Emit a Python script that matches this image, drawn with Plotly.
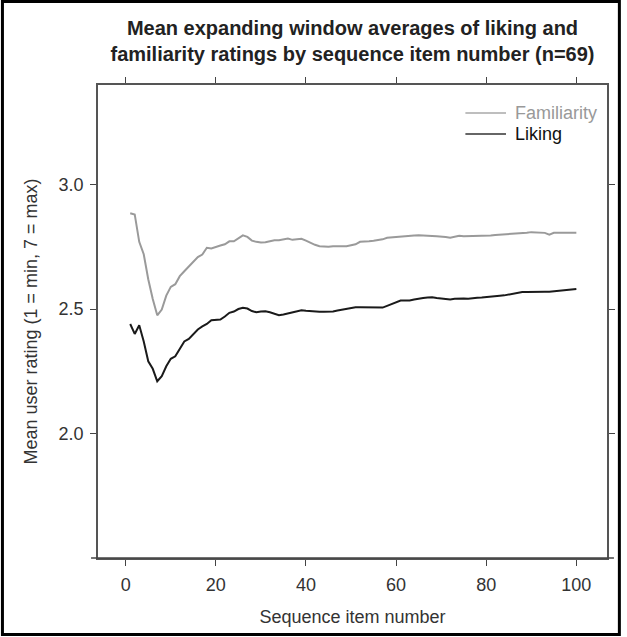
import plotly.graph_objects as go

item_number = list(range(1, 101))

familiarity = [
    2.885, 2.880, 2.770, 2.720, 2.620, 2.540, 2.475, 2.498, 2.554, 2.589,
    2.600, 2.632, 2.652, 2.672, 2.692, 2.709, 2.719, 2.746, 2.743, 2.750,
    2.755, 2.760, 2.772, 2.772, 2.783, 2.796, 2.790, 2.775, 2.770, 2.767,
    2.768, 2.772, 2.776, 2.776, 2.780, 2.783, 2.778, 2.780, 2.782, 2.775,
    2.765, 2.758, 2.752, 2.750, 2.750, 2.752, 2.752, 2.752, 2.752, 2.756,
    2.760, 2.770, 2.770, 2.772, 2.774, 2.776, 2.780, 2.786, 2.788, 2.790,
    2.792, 2.792, 2.794, 2.795, 2.796, 2.794, 2.792, 2.793, 2.792, 2.792,
    2.789, 2.786, 2.790, 2.794, 2.792, 2.792, 2.792, 2.792, 2.793, 2.794,
    2.795, 2.797, 2.798, 2.799, 2.801, 2.802, 2.803, 2.805, 2.807, 2.809,
    2.808, 2.807, 2.806, 2.799, 2.806, 2.806, 2.806, 2.806, 2.807, 2.807,
]

liking = [
    2.440, 2.400, 2.435, 2.370, 2.290, 2.260, 2.210, 2.230, 2.270, 2.300,
    2.310, 2.340, 2.370, 2.380, 2.400, 2.418, 2.430, 2.440, 2.455, 2.458,
    2.458, 2.470, 2.485, 2.490, 2.500, 2.505, 2.502, 2.492, 2.487, 2.490,
    2.491, 2.487, 2.480, 2.475, 2.478, 2.482, 2.485, 2.490, 2.495, 2.493,
    2.491, 2.490, 2.489, 2.489, 2.489, 2.490, 2.494, 2.498, 2.500, 2.503,
    2.507, 2.507, 2.507, 2.507, 2.507, 2.505, 2.506, 2.513, 2.521, 2.528,
    2.534, 2.534, 2.534, 2.538, 2.542, 2.544, 2.546, 2.547, 2.544, 2.542,
    2.540, 2.538, 2.541, 2.543, 2.542, 2.541, 2.544, 2.545, 2.546, 2.547,
    2.549, 2.551, 2.553, 2.555, 2.558, 2.563, 2.567, 2.568, 2.569, 2.570,
    2.570, 2.570, 2.570, 2.570, 2.572, 2.574, 2.576, 2.578, 2.580, 2.581,
]

x_ticks = [0, 20, 40, 60, 80, 100]
y_ticks = [2.0, 2.5, 3.0]
y_tick_labels = ["2.0", "2.5", "3.0"]

FAM_COLOR = "#9a9a9a"
LIK_COLOR = "#1a1a1a"
FONT = "Liberation Sans, Arial, sans-serif"

fig = go.Figure()
fig.add_trace(go.Scatter(x=item_number, y=familiarity, mode="lines",
                         name="Familiarity", line=dict(color=FAM_COLOR, width=2)))
fig.add_trace(go.Scatter(x=item_number, y=liking, mode="lines",
                         name="Liking", line=dict(color=LIK_COLOR, width=2)))

W, H = 627, 637
L, R, T, B = 98, 15, 85, 79
pw, ph = W - L - R, H - T - B

def px(xp):
    return (xp - L) / pw

def py(yp):
    return (H - B - yp) / ph

fig.update_layout(
    width=W, height=H,
    margin=dict(l=L, r=R, t=T, b=B),
    paper_bgcolor="white", plot_bgcolor="white",
    showlegend=False,
    font=dict(family=FONT, size=18, color="#333333"),
    title=dict(
        text="<b>Mean expanding window averages of liking and<br>familiarity ratings by sequence item number (n=69)</b>",
        xref="paper", x=0.5, xanchor="center",
        yref="container", y=1 - 35 / H, yanchor="middle",
        font=dict(family=FONT, size=20, color="#222222"),
    ),
    xaxis=dict(
        range=[-6.15, 106.8], tickvals=x_ticks, ticktext=[str(v) for v in x_ticks],
        showgrid=False, zeroline=False, showline=True, linecolor="#555555", linewidth=1.5,
        mirror="ticks", ticks="outside", ticklen=6, tickcolor="#444444", tickwidth=1,
        ticklabelstandoff=4,
        title=dict(text="Sequence item number", standoff=16, font=dict(size=18, color="#333333")),
    ),
    yaxis=dict(
        range=[1.5, 3.4], tickvals=y_ticks, ticktext=y_tick_labels,
        showgrid=False, zeroline=False, showline=True, linecolor="#555555", linewidth=1.5,
        mirror="ticks", ticks="outside", ticklen=6, tickcolor="#444444", tickwidth=1,
        ticklabelstandoff=3,
        title=dict(text="Mean user rating (1 = min, 7 = max)", standoff=16, font=dict(size=18, color="#333333")),
    ),
)

# bottom axis line extends slightly beyond the plot box
fig.add_shape(type="line", xref="paper", yref="paper",
              x0=px(91), x1=px(619), y0=0, y1=0,
              line=dict(color="#444444", width=1.5), layer="above")

# outer frame around the whole figure
fig.add_shape(type="rect", xref="paper", yref="paper",
              x0=px(1.5), x1=px(W - 2.5), y0=py(H - 2.5), y1=py(1.5),
              line=dict(color="black", width=3), fillcolor="rgba(0,0,0,0)", layer="above")

# legend drawn manually
for name, color, ypix in [("Familiarity", "#a8a8a8", 113), ("Liking", "#333333", 134)]:
    fig.add_shape(type="line", xref="paper", yref="paper",
                  x0=px(469), x1=px(510), y0=py(ypix), y1=py(ypix),
                  line=dict(color=color, width=1.5))
    fig.add_annotation(xref="paper", yref="paper", x=px(517), y=py(ypix),
                       xanchor="left", yanchor="middle", showarrow=False,
                       text=name, font=dict(family=FONT, size=18,
                                            color="#999999" if name == "Familiarity" else "#111111"))

fig.write_html("out.html")
